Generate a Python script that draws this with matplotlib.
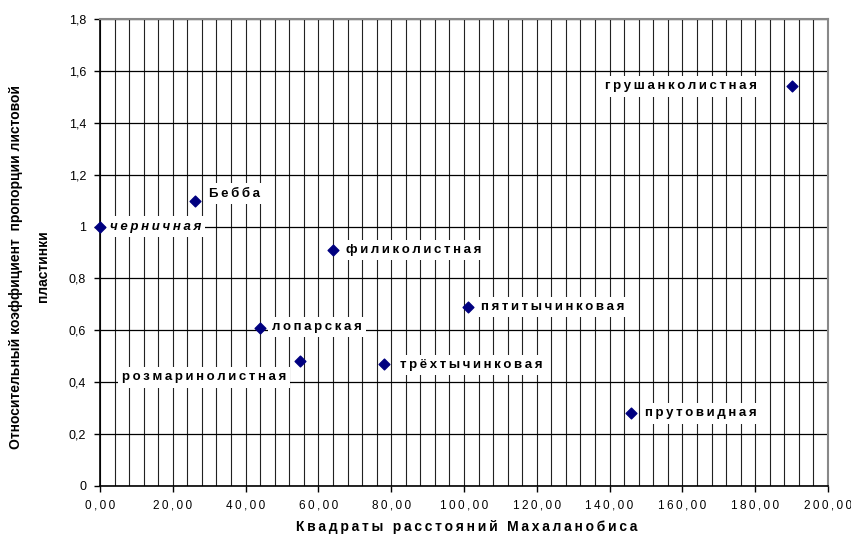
import matplotlib.pyplot as plt
from matplotlib.ticker import MultipleLocator

# Данные: квадраты расстояний Махаланобиса и относительный коэффициент
names = ["черничная", "Бебба", "филиколистная", "лопарская",
         "розмаринолистная", "трёхтычинковая", "пятитычинковая",
         "прутовидная", "грушанколистная"]
dist_x = [0.0, 26.0, 64.0, 44.0, 55.0, 78.0, 101.0, 146.0, 190.0]
ratio_y = [1.00, 1.10, 0.91, 0.61, 0.48, 0.47, 0.69, 0.28, 1.54]
x_ticks = [0, 20, 40, 60, 80, 100, 120, 140, 160, 180, 200]
y_ticks = [0, 0.2, 0.4, 0.6, 0.8, 1.0, 1.2, 1.4, 1.6, 1.8]

# смещения подписей (в пикселях) и выравнивание
offsets = [(10, 0, "left"), (14, 7, "left"), (13, 0, "left"), (12, 1, "left"),
           (-14, -16, "right"), (16, -1, "left"), (13, 0, "left"),
           (14, 0, "left"), (-35, 0, "right")]

FONT = ["Liberation Sans", "DejaVu Sans"]
SP = "\u2009"


def spaced(s):
    """Разрежённый текст, как в Excel."""
    return SP.join(s)


fig = plt.figure(figsize=(8.51, 5.35), dpi=100)
ax = fig.add_axes([0.1175, 0.0916, 0.8555, 0.8729])

ax.set_xlim(0, 200)
ax.set_ylim(0, 1.8)
ax.xaxis.set_minor_locator(MultipleLocator(4))
ax.set_xticks(x_ticks)
ax.set_yticks(y_ticks)
ax.set_xticklabels([spaced(f"{v:.2f}".replace(".", ",")) for v in x_ticks],
                   family=FONT, fontsize=8.5)
ax.set_yticklabels([("%g" % v).replace(".", ",") for v in y_ticks],
                   family=FONT, fontsize=9)
ax.grid(True, which="major", axis="y", color="black", lw=0.9)
ax.grid(True, which="both", axis="x", color="#222222", lw=0.8)
ax.tick_params(which="minor", length=0)
ax.tick_params(which="major", length=4, width=1, direction="out", pad=6)
for side in ["left", "bottom"]:
    ax.spines[side].set_color("black")
    ax.spines[side].set_linewidth(1.2)
for side in ["top", "right"]:
    ax.spines[side].set_color("#888888")
    ax.spines[side].set_linewidth(1.5)
ax.set_axisbelow(True)

ax.scatter(dist_x, ratio_y, marker="D", s=30, color="#000080", zorder=5,
           clip_on=False)

for i, name in enumerate(names):
    dx, dy, ha = offsets[i]
    ax.annotate(spaced(name), (dist_x[i], ratio_y[i]), xytext=(dx, dy),
                textcoords="offset pixels", ha=ha, va="center",
                family=FONT, fontsize=9.5, fontweight="bold",
                fontstyle="italic" if i == 0 else "normal",
                bbox=dict(facecolor="white", edgecolor="none", pad=3),
                zorder=4)

ax.set_xlabel(spaced("Квадраты расстояний Махаланобиса"), family=FONT,
              fontsize=10, fontweight="bold")
ax.xaxis.set_label_coords(0.503, -0.073)
ax.set_ylabel("Относительный коэффициент  пропорции листовой\nпластинки",
              family=FONT, fontsize=10, fontweight="bold", linespacing=2.2)
ax.yaxis.set_label_coords(-0.068, 0.47)

fig.savefig("out.png", dpi=100)
